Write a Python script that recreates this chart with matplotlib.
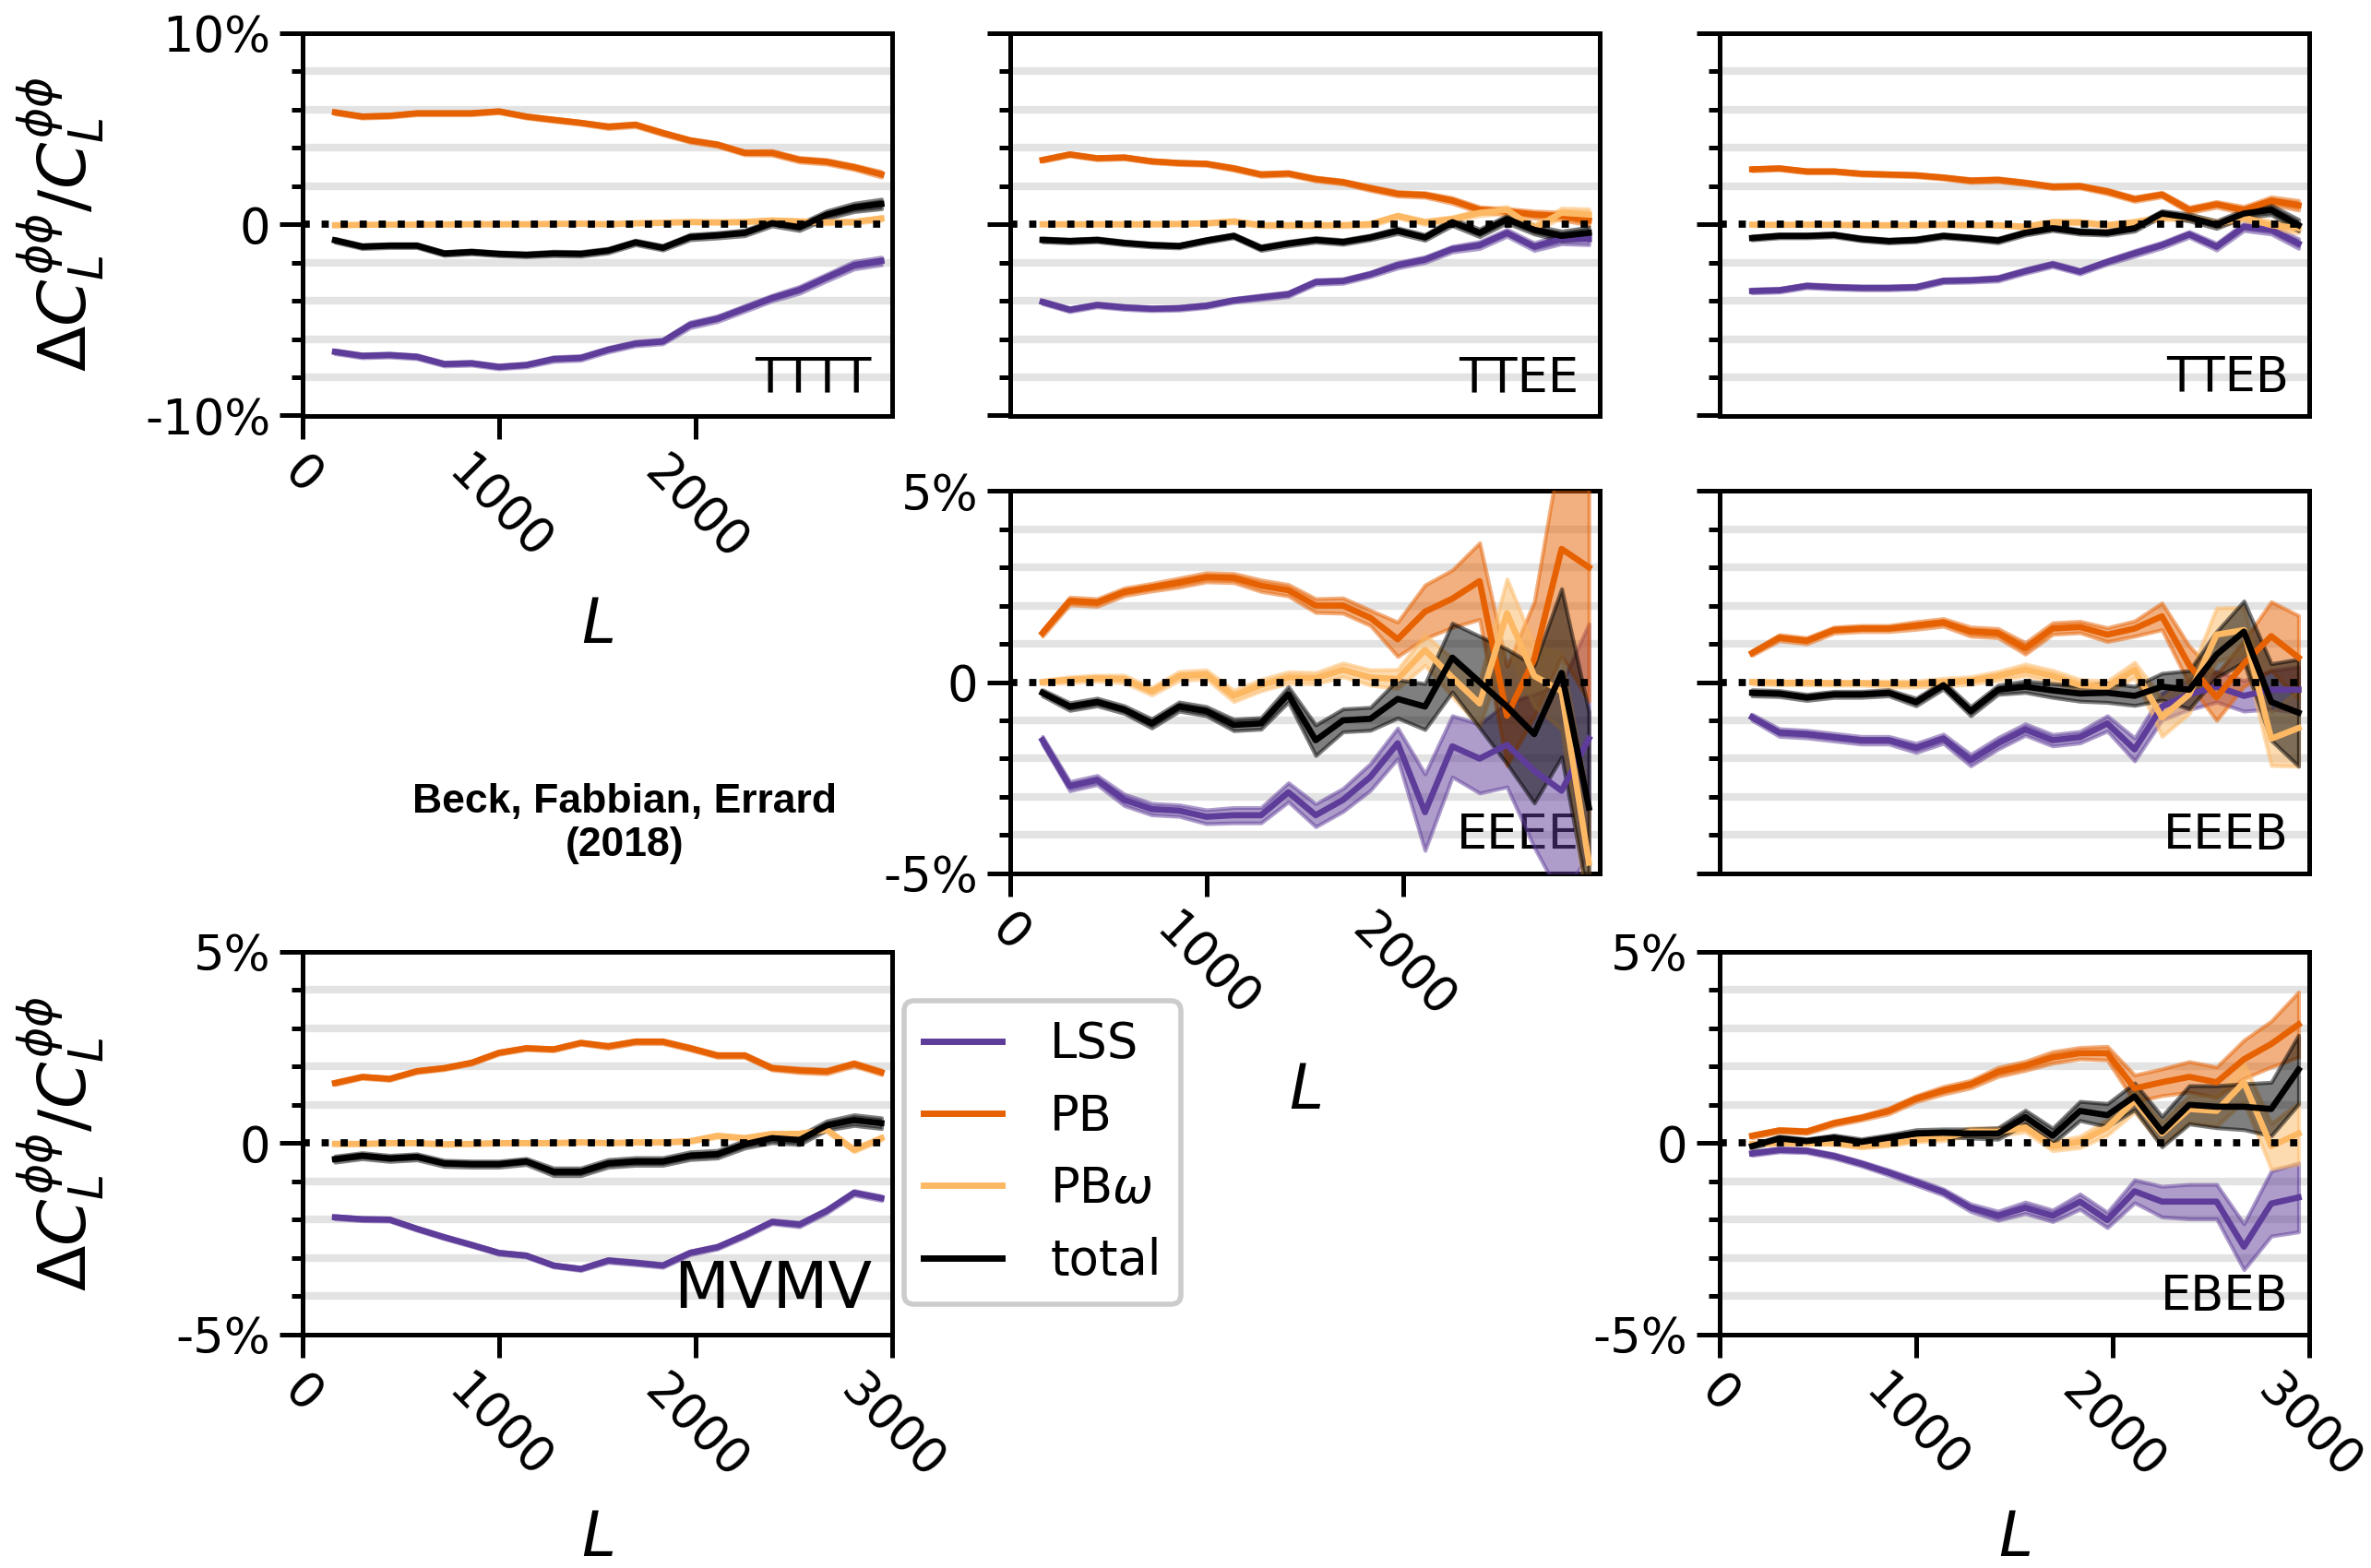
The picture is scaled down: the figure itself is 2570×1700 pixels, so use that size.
import numpy as np
import matplotlib.pyplot as plt

plt.rcParams['font.family'] = ['DejaVu Sans']
plt.rcParams['mathtext.fontset'] = 'dejavusans'

# multipole bin centres
L = [165, 304, 443, 582, 721, 860, 999, 1138, 1277, 1416, 1555, 1694, 1833,
     1972, 2111, 2250, 2389, 2528, 2667, 2806, 2945]

# values in percent
tttt_lss = [-6.67, -6.88, -6.84, -6.93, -7.31, -7.27, -7.46, -7.36, -7.05, -6.99, -6.56,
            -6.24, -6.13, -5.26, -4.94, -4.4, -3.86, -3.43, -2.78, -2.14, -1.92]
tttt_lss_err = [0.1, 0.1, 0.1, 0.1, 0.1, 0.1, 0.1, 0.1, 0.12, 0.12, 0.12, 0.12, 0.12,
                0.15, 0.15, 0.15, 0.15, 0.18, 0.18, 0.2, 0.2]
tttt_pb = [5.85, 5.63, 5.67, 5.8, 5.8, 5.8, 5.9, 5.63, 5.46, 5.3, 5.1, 5.2, 4.77,
           4.38, 4.16, 3.73, 3.73, 3.37, 3.26, 2.98, 2.61]
tttt_pb_err = [0.08, 0.08, 0.08, 0.08, 0.08, 0.08, 0.08, 0.08, 0.08, 0.08, 0.1, 0.1, 0.1,
               0.1, 0.1, 0.1, 0.12, 0.12, 0.12, 0.12, 0.15]
tttt_pbw = [-0.05, -0.03, -0.02, -0.02, -0.01, 0.0, 0.0, 0.0, 0.02, 0.03, 0.0, 0.05,
            0.08, 0.12, 0.1, 0.12, 0.2, 0.15, 0.1, 0.12, 0.3]
tttt_pbw_err = [0.04, 0.04, 0.04, 0.04, 0.04, 0.04, 0.04, 0.04, 0.05, 0.05, 0.05, 0.05,
                0.05, 0.06, 0.06, 0.06, 0.07, 0.07, 0.08, 0.08, 0.1]
tttt_tot = [-0.84, -1.17, -1.12, -1.12, -1.53, -1.45, -1.55, -1.6, -1.53, -1.55, -1.38,
            -0.95, -1.23, -0.67, -0.58, -0.45, 0.06, -0.15, 0.5, 0.88, 1.06]
tttt_tot_err = [0.1, 0.1, 0.1, 0.1, 0.1, 0.1, 0.1, 0.1, 0.12, 0.12, 0.12, 0.12, 0.12,
                0.14, 0.14, 0.15, 0.15, 0.18, 0.2, 0.22, 0.25]

ttee_lss = [-4.06, -4.47, -4.22, -4.35, -4.42, -4.39, -4.26, -3.98, -3.82, -3.66, -3.02,
            -2.97, -2.62, -2.14, -1.85, -1.3, -1.09, -0.45, -1.17, -0.77, -0.77]
ttee_lss_err = [0.1, 0.1, 0.1, 0.1, 0.1, 0.1, 0.1, 0.1, 0.12, 0.12, 0.12, 0.12, 0.12,
                0.15, 0.15, 0.15, 0.18, 0.18, 0.2, 0.25, 0.3]
ttee_pb = [3.36, 3.65, 3.45, 3.49, 3.29, 3.2, 3.16, 2.92, 2.6, 2.65, 2.36, 2.2, 1.88,
           1.59, 1.53, 1.24, 0.76, 0.67, 0.51, 0.43, 0.2]
ttee_pb_err = [0.08, 0.08, 0.08, 0.08, 0.08, 0.08, 0.08, 0.1, 0.1, 0.1, 0.1, 0.1, 0.12,
               0.12, 0.12, 0.15, 0.15, 0.15, 0.18, 0.2, 0.25]
ttee_pbw = [0.0, 0.0, 0.0, 0.0, 0.0, 0.02, 0.05, 0.15, -0.05, -0.05, -0.05, -0.05, 0.0,
            0.43, 0.1, 0.27, 0.6, 0.75, -0.2, 0.6, 0.5]
ttee_pbw_err = [0.06, 0.06, 0.06, 0.06, 0.06, 0.06, 0.06, 0.08, 0.08, 0.08, 0.08, 0.08,
                0.1, 0.1, 0.12, 0.12, 0.15, 0.18, 0.2, 0.25, 0.3]
ttee_tot = [-0.82, -0.88, -0.82, -0.98, -1.09, -1.14, -0.85, -0.61, -1.25, -1.01, -0.82,
            -0.93, -0.69, -0.34, -0.69, 0.11, -0.45, 0.27, -0.29, -0.61, -0.45]
ttee_tot_err = [0.1, 0.1, 0.1, 0.1, 0.1, 0.1, 0.1, 0.1, 0.12, 0.12, 0.12, 0.12, 0.12,
                0.15, 0.15, 0.18, 0.2, 0.2, 0.22, 0.25, 0.3]

tteb_lss = [-3.49, -3.45, -3.22, -3.29, -3.33, -3.33, -3.29, -2.96, -2.93, -2.85, -2.45,
            -2.1, -2.48, -1.97, -1.52, -1.09, -0.53, -1.17, -0.13, -0.29, -1.01]
tteb_lss_err = [0.1, 0.1, 0.1, 0.1, 0.1, 0.1, 0.1, 0.1, 0.1, 0.12, 0.12, 0.12, 0.12,
                0.12, 0.15, 0.15, 0.15, 0.18, 0.2, 0.22, 0.25]
tteb_pb = [2.87, 2.92, 2.76, 2.76, 2.64, 2.6, 2.56, 2.44, 2.28, 2.32, 2.16, 1.96, 1.99,
           1.71, 1.31, 1.55, 0.75, 1.04, 0.75, 1.23, 0.99]
tteb_pb_err = [0.08, 0.08, 0.08, 0.08, 0.08, 0.08, 0.08, 0.08, 0.1, 0.1, 0.1, 0.1, 0.1,
               0.12, 0.12, 0.12, 0.15, 0.15, 0.18, 0.2, 0.25]
tteb_pbw = [-0.02, -0.03, -0.02, -0.03, -0.05, -0.05, -0.05, -0.03, -0.05, -0.05, -0.13,
            0.11, 0.1, -0.05, 0.1, 0.35, 0.35, 0.03, 0.35, -0.05, -0.2]
tteb_pbw_err = [0.05, 0.05, 0.05, 0.05, 0.05, 0.05, 0.05, 0.06, 0.06, 0.06, 0.08, 0.08,
                0.08, 0.1, 0.1, 0.12, 0.12, 0.15, 0.15, 0.2, 0.25]
tteb_tot = [-0.72, -0.61, -0.61, -0.56, -0.77, -0.88, -0.82, -0.61, -0.72, -0.85, -0.45,
            -0.21, -0.4, -0.45, -0.21, 0.56, 0.35, -0.02, 0.56, 0.75, -0.05]
tteb_tot_err = [0.1, 0.1, 0.1, 0.1, 0.1, 0.1, 0.1, 0.1, 0.1, 0.12, 0.12, 0.12, 0.12,
                0.12, 0.15, 0.15, 0.18, 0.2, 0.2, 0.25, 0.3]

eeee_lss = [-1.52, -2.72, -2.56, -3.08, -3.32, -3.36, -3.52, -3.48, -3.48, -2.88, -3.48,
            -3.08, -2.48, -1.6, -3.4, -1.68, -2.0, -1.64, -2.32, -2.84, -1.48]
eeee_lss_err = [0.1, 0.12, 0.12, 0.15, 0.15, 0.15, 0.18, 0.2, 0.2, 0.25, 0.3, 0.3, 0.35,
                0.4, 1.0, 0.8, 0.9, 1.1, 2.0, 2.8, 3.0]
eeee_pb = [1.28, 2.12, 2.08, 2.36, 2.48, 2.6, 2.74, 2.72, 2.52, 2.4, 2.0, 2.0, 1.68,
           1.12, 1.84, 2.18, 2.64, -0.88, 0.6, 3.48, 3.0]
eeee_pb_err = [0.08, 0.1, 0.1, 0.1, 0.1, 0.12, 0.12, 0.12, 0.15, 0.15, 0.18, 0.2, 0.2,
               0.45, 0.7, 0.75, 1.0, 1.3, 1.5, 2.8, 3.5]
eeee_pbw = [0.0, 0.06, 0.1, 0.08, -0.24, 0.16, 0.2, -0.36, -0.08, 0.12, 0.1, 0.32, 0.12,
            0.08, 0.84, 0.12, -0.56, 1.8, 0.16, -0.24, -4.72]
eeee_pbw_err = [0.05, 0.08, 0.08, 0.1, 0.1, 0.12, 0.12, 0.15, 0.15, 0.15, 0.15, 0.18,
                0.2, 0.25, 0.4, 0.5, 0.6, 0.9, 0.8, 1.0, 1.5]
eeee_tot = [-0.28, -0.64, -0.52, -0.72, -1.08, -0.64, -0.76, -1.12, -1.08, -0.32, -1.52,
            -1.0, -0.96, -0.44, -0.64, 0.64, 0.0, -0.64, -1.36, 0.24, -3.28]
eeee_tot_err = [0.08, 0.1, 0.1, 0.1, 0.12, 0.12, 0.12, 0.15, 0.15, 0.2, 0.4, 0.3, 0.3,
                0.5, 0.6, 0.9, 1.2, 1.5, 1.8, 2.2, 2.5]

eeeb_lss = [-0.92, -1.32, -1.36, -1.44, -1.52, -1.52, -1.72, -1.48, -2.04, -1.6, -1.24,
            -1.52, -1.44, -1.08, -1.76, -0.64, -0.32, -0.12, -0.36, -0.2, -0.2]
eeeb_lss_err = [0.08, 0.1, 0.1, 0.1, 0.1, 0.1, 0.12, 0.12, 0.15, 0.15, 0.15, 0.15, 0.15,
                0.2, 0.3, 0.35, 0.4, 0.4, 0.4, 0.5, 0.6]
eeeb_pb = [0.76, 1.16, 1.08, 1.36, 1.4, 1.4, 1.48, 1.56, 1.32, 1.28, 0.88, 1.4, 1.44,
           1.24, 1.4, 1.72, 0.44, -0.4, 0.48, 1.2, 0.64]
eeeb_pb_err = [0.06, 0.08, 0.08, 0.08, 0.08, 0.08, 0.1, 0.1, 0.12, 0.12, 0.15, 0.15,
               0.15, 0.18, 0.2, 0.35, 0.5, 0.6, 0.6, 0.9, 1.1]
eeeb_pbw = [0.0, -0.02, -0.02, -0.03, -0.03, -0.05, -0.05, 0.0, 0.04, 0.16, 0.32, 0.16,
            -0.08, -0.12, 0.32, -0.92, -0.32, 1.24, 1.36, -1.48, -1.2]
eeeb_pbw_err = [0.05, 0.05, 0.05, 0.05, 0.05, 0.08, 0.08, 0.1, 0.1, 0.12, 0.15, 0.15,
                0.15, 0.15, 0.2, 0.5, 0.5, 0.7, 0.6, 0.7, 1.0]
eeeb_tot = [-0.28, -0.3, -0.4, -0.32, -0.32, -0.28, -0.52, -0.08, -0.76, -0.2, -0.12,
            -0.22, -0.3, -0.28, -0.36, -0.12, -0.2, 0.72, 1.32, -0.52, -0.8]
eeeb_tot_err = [0.08, 0.08, 0.08, 0.08, 0.08, 0.08, 0.1, 0.1, 0.12, 0.12, 0.15, 0.18,
                0.2, 0.25, 0.25, 0.35, 0.5, 0.6, 0.8, 1.0, 1.4]

mvmv_lss = [-1.94, -1.99, -2.0, -2.24, -2.46, -2.66, -2.87, -2.94, -3.2, -3.29, -3.07,
            -3.13, -3.2, -2.87, -2.72, -2.41, -2.06, -2.13, -1.77, -1.3, -1.44]
mvmv_lss_err = [0.04, 0.04, 0.04, 0.04, 0.04, 0.04, 0.04, 0.04, 0.04, 0.04, 0.05, 0.05,
                0.05, 0.05, 0.05, 0.05, 0.05, 0.06, 0.06, 0.06, 0.06]
mvmv_pb = [1.57, 1.73, 1.68, 1.88, 1.96, 2.1, 2.36, 2.48, 2.45, 2.62, 2.53, 2.65, 2.65,
           2.48, 2.29, 2.29, 1.96, 1.9, 1.87, 2.07, 1.85]
mvmv_pb_err = [0.04, 0.04, 0.04, 0.04, 0.04, 0.04, 0.04, 0.04, 0.04, 0.04, 0.05, 0.05,
               0.05, 0.05, 0.05, 0.05, 0.05, 0.06, 0.06, 0.06, 0.06]
mvmv_pbw = [-0.02, -0.02, 0.0, 0.0, -0.03, -0.02, 0.0, 0.0, 0.0, 0.02, 0.0, 0.02, 0.02,
            0.05, 0.19, 0.13, 0.24, 0.24, 0.35, -0.18, 0.13]
mvmv_pbw_err = [0.03, 0.03, 0.03, 0.03, 0.03, 0.03, 0.03, 0.03, 0.03, 0.03, 0.03, 0.03,
                0.03, 0.04, 0.04, 0.04, 0.04, 0.05, 0.05, 0.05, 0.05]
mvmv_tot = [-0.42, -0.33, -0.4, -0.36, -0.53, -0.55, -0.55, -0.48, -0.75, -0.75, -0.53,
            -0.48, -0.48, -0.33, -0.29, -0.03, 0.13, 0.08, 0.46, 0.6, 0.52]
mvmv_tot_err = [0.08, 0.08, 0.08, 0.08, 0.08, 0.08, 0.08, 0.08, 0.1, 0.1, 0.1, 0.1, 0.1,
                0.1, 0.1, 0.1, 0.12, 0.12, 0.12, 0.14, 0.14]

ebeb_lss = [-0.27, -0.18, -0.2, -0.34, -0.54, -0.77, -1.02, -1.28, -1.69, -1.9, -1.69,
            -1.9, -1.53, -2.01, -1.26, -1.53, -1.53, -1.53, -2.71, -1.58, -1.42]
ebeb_lss_err = [0.05, 0.05, 0.05, 0.06, 0.06, 0.07, 0.08, 0.08, 0.1, 0.12, 0.15, 0.15,
                0.2, 0.2, 0.3, 0.4, 0.45, 0.45, 0.6, 0.85, 0.9]
ebeb_pb = [0.19, 0.33, 0.3, 0.52, 0.66, 0.84, 1.16, 1.38, 1.54, 1.86, 2.02, 2.24, 2.35,
           2.35, 1.43, 1.59, 1.73, 1.59, 2.19, 2.59, 3.1]
ebeb_pb_err = [0.05, 0.05, 0.05, 0.06, 0.06, 0.08, 0.08, 0.1, 0.1, 0.12, 0.12, 0.15,
               0.15, 0.18, 0.35, 0.35, 0.4, 0.4, 0.5, 0.6, 0.85]
ebeb_pbw = [-0.02, 0.0, 0.0, 0.0, -0.08, -0.02, 0.09, 0.14, 0.3, 0.3, 0.41, -0.08, 0.03,
            0.41, 1.11, 0.25, 0.89, 0.84, 1.59, -0.08, 0.25]
ebeb_pbw_err = [0.03, 0.03, 0.03, 0.04, 0.05, 0.05, 0.06, 0.08, 0.1, 0.1, 0.12, 0.12,
                0.15, 0.2, 0.3, 0.3, 0.35, 0.4, 0.5, 0.6, 0.8]
ebeb_tot = [-0.08, 0.12, 0.05, 0.14, 0.03, 0.14, 0.25, 0.27, 0.25, 0.25, 0.68, 0.19,
            0.84, 0.73, 1.22, 0.3, 1.0, 0.95, 0.95, 0.89, 1.92]
ebeb_tot_err = [0.05, 0.06, 0.06, 0.07, 0.08, 0.08, 0.1, 0.1, 0.12, 0.15, 0.18, 0.2,
                0.25, 0.3, 0.35, 0.4, 0.5, 0.55, 0.6, 0.7, 0.9]

labels = ['LSS', 'PB', r'PB$\omega$', 'total']
colors = ['#5e3c99', '#e66101', '#fdb863', 'k']

fig = plt.figure(figsize=(12.85, 8.5), dpi=200)

cols = [0.1276, 0.426, 0.7253]
rows = [0.735, 0.443, 0.149]
w, h = 0.2487, 0.244

fs = 19
ylab = r'$\Delta C_L^{\phi\phi}/C_L^{\phi\phi}$'


def panel(ax, series, name, lim, name_fs=fs):
    L_arr = np.array(L)
    for (y, e), c, lab in zip(series, colors, labels):
        y = np.array(y)
        e = np.array(e)
        ax.fill_between(L_arr, y - e, y + e, color=c, alpha=0.5, lw=1.5, zorder=3)
        ax.plot(L_arr, y, color=c, lw=2.4, label=lab, zorder=4)
    ax.axhline(0, color='k', ls=':', lw=2.8, zorder=5)
    ax.set_xlim(0, 3000)
    ax.set_ylim(-lim, lim)
    ax.set_yticks([-lim, 0, lim])
    ax.set_yticks(np.linspace(-lim, lim, 11), minor=True)
    ax.grid(which='minor', axis='y', color='#e3e3e3', lw=3, zorder=0)
    ax.set_axisbelow(True)
    for s in ax.spines.values():
        s.set_linewidth(1.8)
    ax.tick_params(which='major', length=9, width=1.8, labelsize=fs)
    ax.tick_params(which='minor', length=4.5, width=1.8)
    ax.text(0.965, 0.035, name, transform=ax.transAxes, ha='right', va='bottom',
            fontsize=name_fs, zorder=1)


def ylabels(ax, lim):
    ax.set_yticklabels(['-%d%%' % lim, '0', '%d%%' % lim])
    ax.set_ylabel(ylab, fontsize=26)
    ax.yaxis.set_label_coords(-0.33, 0.5)


def xlabels(ax, ticks, ypos):
    ax.set_xticks(ticks)
    ax.set_xticklabels([str(t) for t in ticks], rotation=-45)
    ax.set_xlabel(r'$L$', fontsize=24)
    ax.xaxis.set_label_coords(0.5, ypos)


ax1 = fig.add_axes([cols[0], rows[0], w, h])
panel(ax1, [(tttt_lss, tttt_lss_err), (tttt_pb, tttt_pb_err),
            (tttt_pbw, tttt_pbw_err), (tttt_tot, tttt_tot_err)], 'TTTT', 10)
ylabels(ax1, 10)
xlabels(ax1, [0, 1000, 2000], -0.47)

ax2 = fig.add_axes([cols[1], rows[0], w, h])
panel(ax2, [(ttee_lss, ttee_lss_err), (ttee_pb, ttee_pb_err),
            (ttee_pbw, ttee_pbw_err), (ttee_tot, ttee_tot_err)], 'TTEE', 10)
ax2.set_yticklabels([])
ax2.set_xticks([])

ax3 = fig.add_axes([cols[2], rows[0], w, h])
panel(ax3, [(tteb_lss, tteb_lss_err), (tteb_pb, tteb_pb_err),
            (tteb_pbw, tteb_pbw_err), (tteb_tot, tteb_tot_err)], 'TTEB', 10)
ax3.set_yticklabels([])
ax3.set_xticks([])

ax4 = fig.add_axes([cols[1], rows[1], w, h])
panel(ax4, [(eeee_lss, eeee_lss_err), (eeee_pb, eeee_pb_err),
            (eeee_pbw, eeee_pbw_err), (eeee_tot, eeee_tot_err)], 'EEEE', 5)
ax4.set_yticklabels(['-5%', '0', '5%'])
xlabels(ax4, [0, 1000, 2000], -0.49)

ax5 = fig.add_axes([cols[2], rows[1], w, h])
panel(ax5, [(eeeb_lss, eeeb_lss_err), (eeeb_pb, eeeb_pb_err),
            (eeeb_pbw, eeeb_pbw_err), (eeeb_tot, eeeb_tot_err)], 'EEEB', 5)
ax5.set_yticklabels([])
ax5.set_xticks([])

ax6 = fig.add_axes([cols[0], rows[2], w, h])
panel(ax6, [(mvmv_lss, mvmv_lss_err), (mvmv_pb, mvmv_pb_err),
            (mvmv_pbw, mvmv_pbw_err), (mvmv_tot, mvmv_tot_err)], 'MVMV', 5, name_fs=25)
ylabels(ax6, 5)
xlabels(ax6, [0, 1000, 2000, 3000], -0.455)

ax7 = fig.add_axes([cols[2], rows[2], w, h])
panel(ax7, [(ebeb_lss, ebeb_lss_err), (ebeb_pb, ebeb_pb_err),
            (ebeb_pbw, ebeb_pbw_err), (ebeb_tot, ebeb_tot_err)], 'EBEB', 5)
ax7.set_yticklabels(['-5%', '0', '5%'])
xlabels(ax7, [0, 1000, 2000, 3000], -0.455)

handles, labs = ax6.get_legend_handles_labels()
leg = fig.legend(handles, labs, loc='upper left', bbox_to_anchor=(980 / 2570, 1 - 1085 / 1700),
                 fontsize=fs, handlelength=1.6, handletextpad=1.0, labelspacing=0.5,
                 borderpad=0.4, borderaxespad=0, fancybox=True, framealpha=1,
                 edgecolor='#cccccc')
leg.get_frame().set_linewidth(2)
for line in leg.get_lines():
    line.set_linewidth(2.5)

fig.text(677 / 2570, 1 - 893 / 1700, 'Beck, Fabbian, Errard\n(2018)', ha='center',
         va='center', fontsize=16, fontweight='bold', family='Liberation Sans')

fig.savefig('out.png', dpi=200)
